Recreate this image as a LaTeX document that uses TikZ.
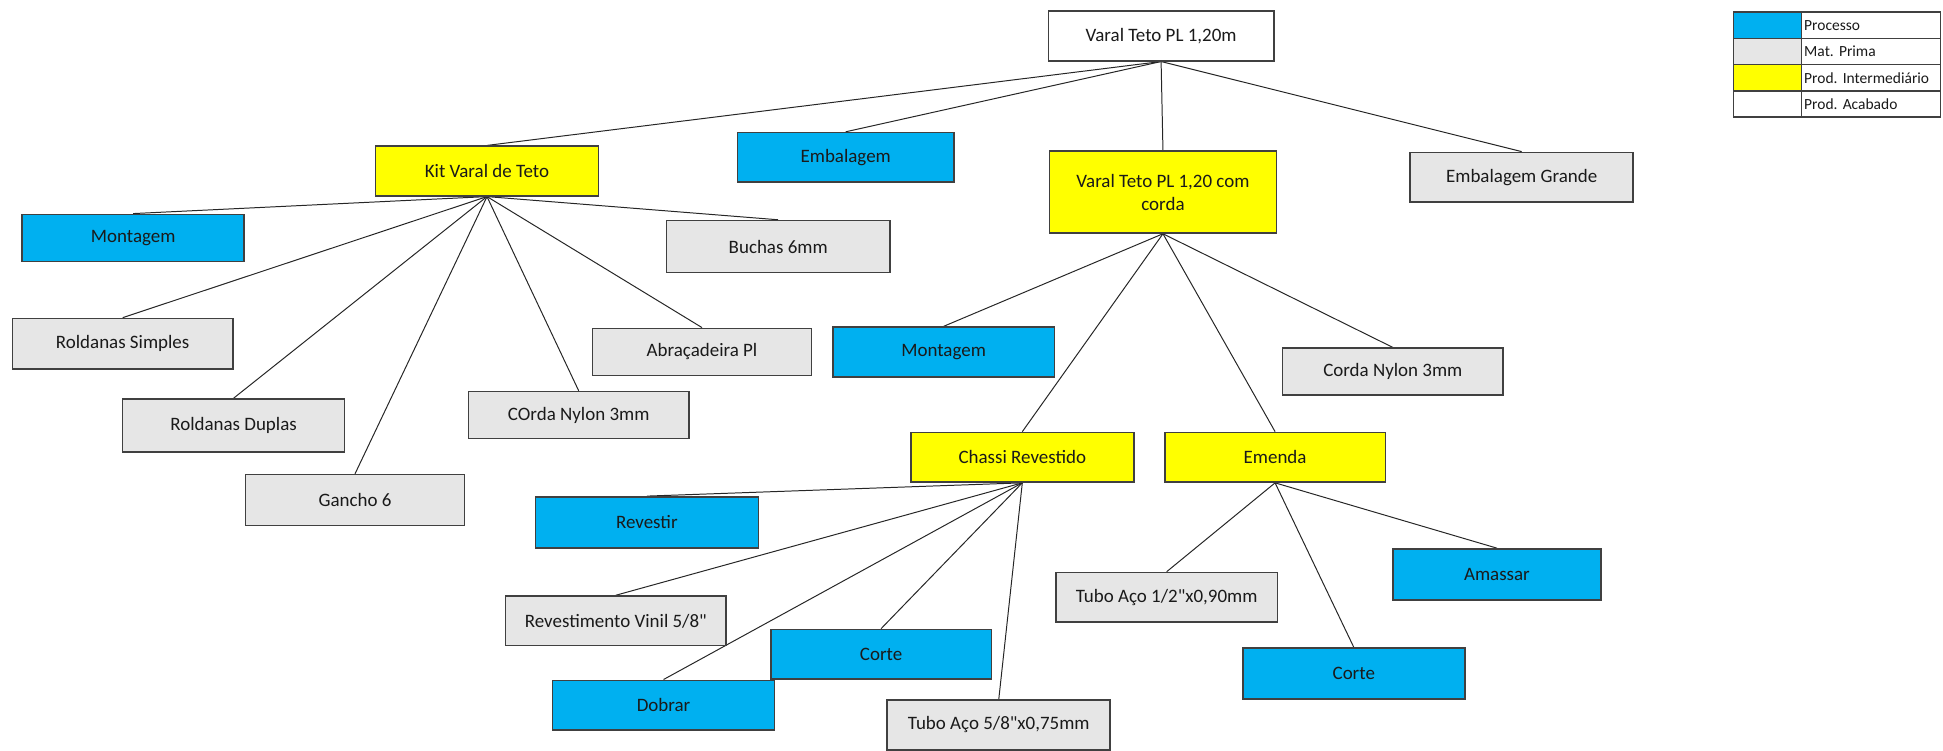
\documentclass[tikz,border=0pt]{standalone}
\usepackage{fontspec}
\setmainfont{Carlito}[Ligatures=TeXOff]
\usetikzlibrary{backgrounds}
\frenchspacing

\definecolor{procblue}{HTML}{00B0F0}
\definecolor{rawgray}{HTML}{E6E6E6}
\definecolor{interyellow}{HTML}{FFFF00}
\definecolor{boxline}{HTML}{404040}
\definecolor{txt}{HTML}{1A1A1A}

\tikzset{
  box/.style={rectangle, draw=boxline, line width=1.3pt, text=txt,
    minimum width=178pt, minimum height=40pt, inner sep=2pt, align=center,
    font=\fontsize{15.3}{18.5}\selectfont},
  proc/.style={box, fill=procblue},
  raw/.style={box, fill=rawgray},
  inter/.style={box, fill=interyellow},
  final/.style={box, fill=white},
  link/.style={draw=black!85, line width=0.8pt},
  keycell/.style={rectangle, draw=boxline, line width=1.1pt, minimum height=21.2pt,
    inner sep=0pt, outer sep=0pt},
  keytext/.style={keycell, minimum width=112pt, text width=108pt, align=left,
    text=txt, font=\fontsize{12.5}{14}\selectfont, fill=white},
}

\begin{document}
\begin{tikzpicture}[x=1pt, y=-1pt]
\useasboundingbox (0,0) rectangle (1568,606);

% top level
\node[final, minimum width=182pt] (top) at (937,29) {Varal Teto PL 1,20m};
\node[inter, minimum width=180pt] (kit) at (393,138) {Kit Varal de Teto};
\node[proc, minimum width=175pt] (emb) at (682.5,127) {Embalagem};
\node[inter, minimum width=183pt, minimum height=66pt] (vcc) at (938.5,155) {Varal Teto PL 1,20 com\\corda};
\node[raw, minimum width=180pt] (embg) at (1228,143) {Embalagem Grande};

% kit parts
\node[proc, minimum width=179pt, minimum height=38pt] (montL) at (107.5,192) {Montagem};
\node[raw, minimum width=180pt, minimum height=42pt] (buch) at (628,199) {Buchas 6mm};
\node[raw, minimum height=41pt] (rsimp) at (99,277.5) {Roldanas Simples};
\node[raw, minimum width=177pt, minimum height=38pt] (abra) at (566.5,284) {Abraçadeira Pl};
\node[raw, minimum width=179pt, minimum height=43pt] (rdup) at (188.5,343.5) {Roldanas Duplas};
\node[raw, minimum height=38pt] (corda1) at (467,335) {COrda Nylon 3mm};
\node[raw, minimum width=177pt, minimum height=41pt] (ganc) at (286.5,403.5) {Gancho 6};

% rope assembly
\node[proc, minimum width=179pt] (montR) at (761.5,284) {Montagem};
\node[raw, minimum height=38pt] (corda2) at (1124,300) {Corda Nylon 3mm};
\node[inter, minimum width=180pt] (chassi) at (825,369) {Chassi Revestido};
\node[inter] (emenda) at (1029,369) {Emenda};

% coated frame
\node[proc, minimum width=180pt, minimum height=41pt] (revt) at (522,421.5) {Revestir};
\node[raw] (vinil) at (497,501) {Revestimento Vinil 5/8"};
\node[proc] (corteA) at (711,528) {Corte};
\node[proc, minimum width=179pt] (dobr) at (535.5,569) {Dobrar};
\node[raw, minimum width=180pt] (tubo58) at (806,585) {Tubo Aço 5/8"x0,75mm};

% splice
\node[raw, minimum width=179pt] (tubo12) at (941.5,482) {Tubo Aço 1/2"x0,90mm};
\node[proc, minimum width=168pt, minimum height=41pt] (amas) at (1208,463.5) {Amassar};
\node[proc, minimum width=179pt, minimum height=41pt] (corteB) at (1092.5,543.5) {Corte};

% connectors
\begin{scope}[on background layer]
  \foreach \c in {kit, emb, vcc, embg} \draw[link] (top.south) -- (\c.north);
  \foreach \c in {montL, buch, rsimp, abra, rdup, corda1, ganc} \draw[link] (kit.south) -- (\c.north);
  \foreach \c in {montR, corda2, chassi, emenda} \draw[link] (vcc.south) -- (\c.north);
  \foreach \c in {revt, vinil, corteA, dobr, tubo58} \draw[link] (chassi.south) -- (\c.north);
  \foreach \c in {tubo12, amas, corteB} \draw[link] (emenda.south) -- (\c.north);
\end{scope}

% legend
\node[keycell, minimum width=55pt, fill=procblue, anchor=north west] (k1) at (1399,9.7) {};
\node[keycell, minimum width=55pt, fill=rawgray, anchor=north] (k2) at (k1.south) {};
\node[keycell, minimum width=55pt, fill=interyellow, anchor=north] (k3) at (k2.south) {};
\node[keycell, minimum width=55pt, fill=white, anchor=north] (k4) at (k3.south) {};
\node[keytext, anchor=west] (t1) at (k1.east) {Processo};
\node[keytext, anchor=west] (t2) at (k2.east) {Mat. Prima};
\node[keytext, anchor=west] (t3) at (k3.east) {Prod. Intermediário};
\node[keytext, anchor=west] (t4) at (k4.east) {Prod. Acabado};
\end{tikzpicture}
\end{document}
